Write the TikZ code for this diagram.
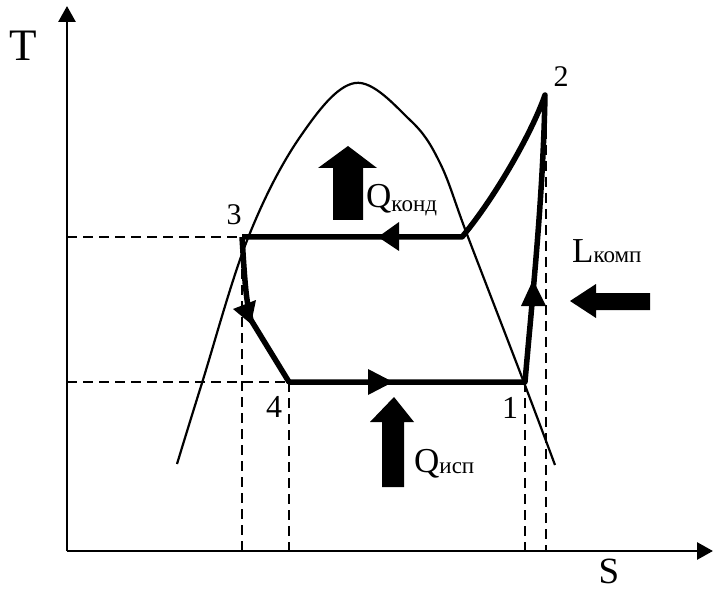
\documentclass[tikz,border=0pt]{standalone}
\usepackage{fontspec}
\setmainfont{Liberation Serif}
\usetikzlibrary{arrows.meta}
\tikzset{
  axis/.style={line width=2.8pt,-{Triangle[length=16pt,width=17pt]}},
  dome/.style={line width=2.2pt},
  cyc/.style={line width=5.5pt,line join=round},
  guide/.style={line width=2.3pt,dash pattern=on 10pt off 6pt},
  tipfill/.style={fill=black,draw=none},
  bigarrow/.style={fill=black,draw=none},
  lbl/.style={inner sep=0pt,font=\fontsize{30}{32}\selectfont},
  qlbl/.style={inner sep=0pt,anchor=base west,font=\fontsize{35}{36}\selectfont}
}
\newcommand{\subtxt}[1]{{\fontsize{23}{24}\selectfont #1}}
\begin{document}
\begin{tikzpicture}[x=1pt,y=-1pt]
\useasboundingbox (0,0) rectangle (713,591);
% coordinates
\coordinate (O) at (67,551);
\coordinate (Ty) at (67,6);
\coordinate (Sx) at (713,551);
\coordinate (p3) at (242,237);
\coordinate (pc) at (462,237);
\coordinate (p2) at (545,95);
\coordinate (p1) at (525,382);
\coordinate (p4) at (289,382);
\coordinate (pk) at (251,320);
% axes
\draw[axis] (O) -- (Ty);
\draw[axis] (O) -- (Sx);
\node[inner sep=0pt,font=\fontsize{45}{46}\selectfont] (T) at (23,46) {T};
\node[inner sep=0pt,font=\fontsize{37}{38}\selectfont] (S) at (609,571) {S};
% guide lines
\coordinate (g3) at (67,237);
\coordinate (g4) at (67,382);
\coordinate (b3) at (242,551);
\coordinate (b4) at (289,551);
\coordinate (b1) at (525,551);
\coordinate (b2) at (546,551);
\coordinate (t2) at (546,97);
\draw[guide] (g3) -- (p3);
\draw[guide] (g4) -- (p4);
\draw[guide] (p3) -- (b3);
\draw[guide] (p4) -- (b4);
\draw[guide] (p1) -- (b1);
\draw[guide] (t2) -- (b2);
% dome
\draw[dome] plot[smooth,tension=0.6] coordinates {(177,464) (202,383) (248,238) (300,137) (355,83) (410,120) (440,163) (468,237) (523,380) (555,465)};
% cycle
\draw[cyc] (p3) -- (pc) .. controls (497,195) and (533,130) .. (p2)
  .. controls (543,200) and (532,300) .. (p1) -- (p4) -- (pk) .. controls (246,300) and (245,285) .. (p3);
% direction arrowheads
\fill[tipfill] (378,237) -- (399,222) -- (399,251) -- cycle;
\fill[tipfill] (393,382) -- (368,369) -- (368,395) -- cycle;
\fill[tipfill] (533,280) -- (521,306) -- (546,306) -- cycle;
\fill[tipfill] (233,309) -- (256,300) -- (251,324) -- cycle;
% heat/work arrows
\fill[bigarrow] (333,220) -- (333,168) -- (318,168) -- (348,146) -- (377,168) -- (363,168) -- (363,220) -- cycle;
\fill[bigarrow] (382,487) -- (382,422) -- (370,422) -- (394,397) -- (414,422) -- (404,422) -- (404,487) -- cycle;
\fill[bigarrow] (650,293) -- (596,293) -- (596,284) -- (570,301) -- (596,318) -- (596,310) -- (650,310) -- cycle;
% labels
\node[qlbl] (Qk) at (366,208) {Q\raisebox{-3pt}{\subtxt{конд}}};
\node[qlbl] (Qi) at (414,472) {Q\raisebox{-1pt}{\subtxt{исп}}};
\node[qlbl] (Lk) at (572,262) {L\subtxt{комп}};
\node[lbl] (n3) at (234,215) {3};
\node[lbl] (n2) at (561,77) {2};
\node[lbl,font=\fontsize{32}{33}\selectfont] (n1) at (510,408) {1};
\node[lbl,font=\fontsize{32}{33}\selectfont] (n4) at (274,407) {4};
\end{tikzpicture}
\end{document}
